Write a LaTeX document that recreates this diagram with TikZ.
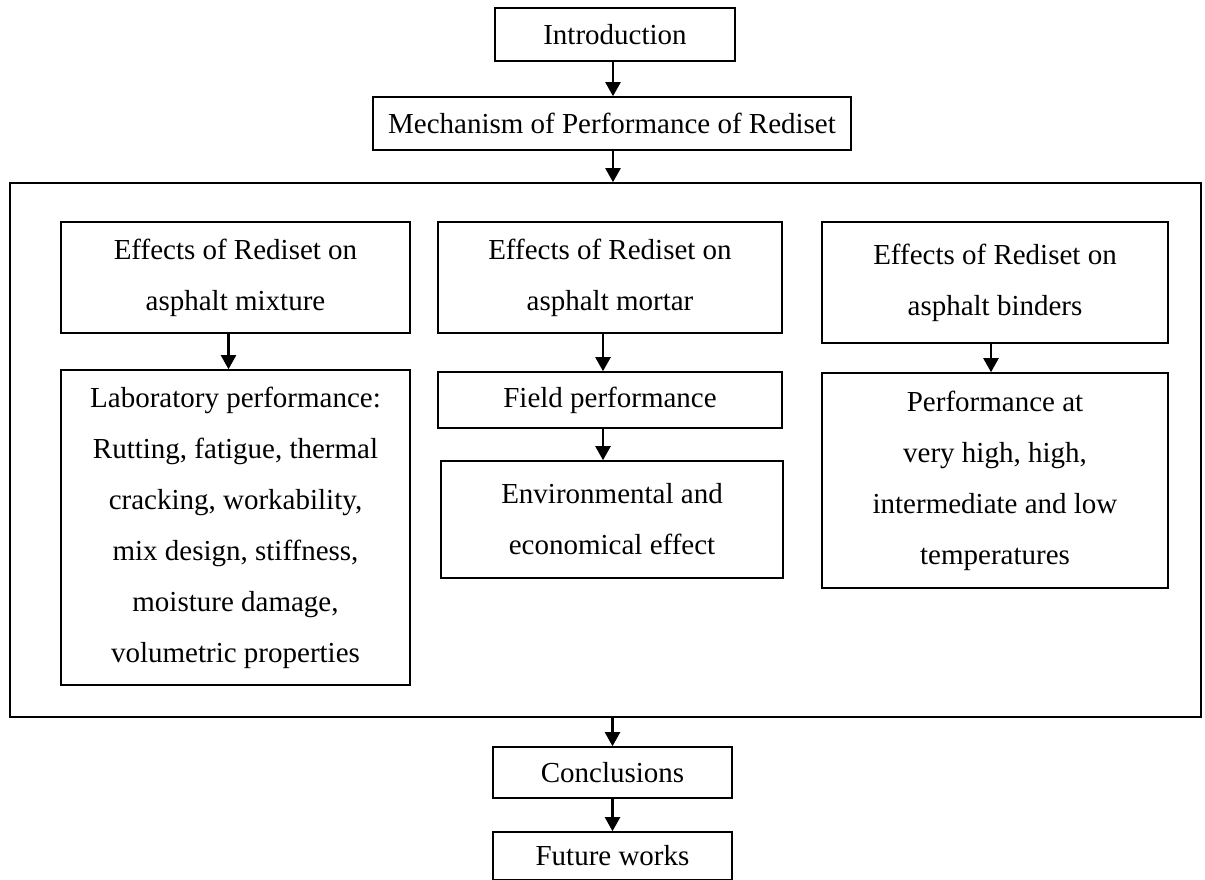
\documentclass[tikz,border=0pt]{standalone}
\usepackage{fontspec}
\setmainfont{Liberation Serif}
\usetikzlibrary{arrows.meta}
\begin{document}
\begin{tikzpicture}[x=1pt,y=-1pt,
  box/.style={draw, line width=1.6pt, inner sep=0pt, align=center,
    font=\fontsize{29}{51}\selectfont},
  arr/.style={line width=2.2pt, -{Triangle[width=15pt,length=14pt]}}]
\useasboundingbox (0,0) rectangle (1205,880);
% top chain
\node[box, minimum width=240, minimum height=53] (intro) at (615,34.5) {Introduction};
\node[box, minimum width=478, minimum height=53] (mech) at (612,123.5) {Mechanism of Performance of Rediset};
% frame
\node[draw, line width=1.6pt, inner sep=0pt, minimum width=1191, minimum height=534] (frame) at (605.5,450) {};
% left column
\node[box, minimum width=349, minimum height=111] (effmix) at (235.5,277.5) {Effects of Rediset on\\asphalt mixture};
\node[box, minimum width=349, minimum height=315] (lab) at (235.5,527.5) {Laboratory performance:\\Rutting, fatigue, thermal\\cracking, workability,\\mix design, stiffness,\\moisture damage,\\volumetric properties};
% middle column
\node[box, minimum width=344, minimum height=111] (effmor) at (610,277.5) {Effects of Rediset on\\asphalt mortar};
\node[box, minimum width=344, minimum height=56] (field) at (610,400) {Field performance};
\node[box, minimum width=342, minimum height=117] (env) at (612,519.5) {Environmental and\\economical effect};
% right column
\node[box, minimum width=346, minimum height=121] (effbin) at (995,282.5) {Effects of Rediset on\\asphalt binders};
\node[box, minimum width=346, minimum height=215] (perf) at (995,480.5) {Performance at\\very high, high,\\intermediate and low\\temperatures};
% bottom chain
\node[box, minimum width=239, minimum height=51] (concl) at (612.5,772.5) {Conclusions};
\node[box, minimum width=239, minimum height=48] (future) at (612.5,856) {Future works};
% arrows
\draw[arr] ([xshift=-2pt]intro.south) -- ([xshift=-2pt]intro.south |- mech.north);
\draw[arr] ([xshift=1pt]mech.south) -- ([xshift=1pt]mech.south |- frame.north);
\draw[arr] ([xshift=-7pt]effmix.south) -- ([xshift=-7pt]lab.north);
\draw[arr] ([xshift=-7pt]effmor.south) -- ([xshift=-7pt]field.north);
\draw[arr] ([xshift=-7pt]field.south) -- ([xshift=-7pt]field.south |- env.north);
\draw[arr] ([xshift=-4pt]effbin.south) -- ([xshift=-4pt]perf.north);
\draw[arr] (frame.south -| concl.north) -- (concl.north);
\draw[arr] (concl.south) -- (future.north);
\end{tikzpicture}
\end{document}
